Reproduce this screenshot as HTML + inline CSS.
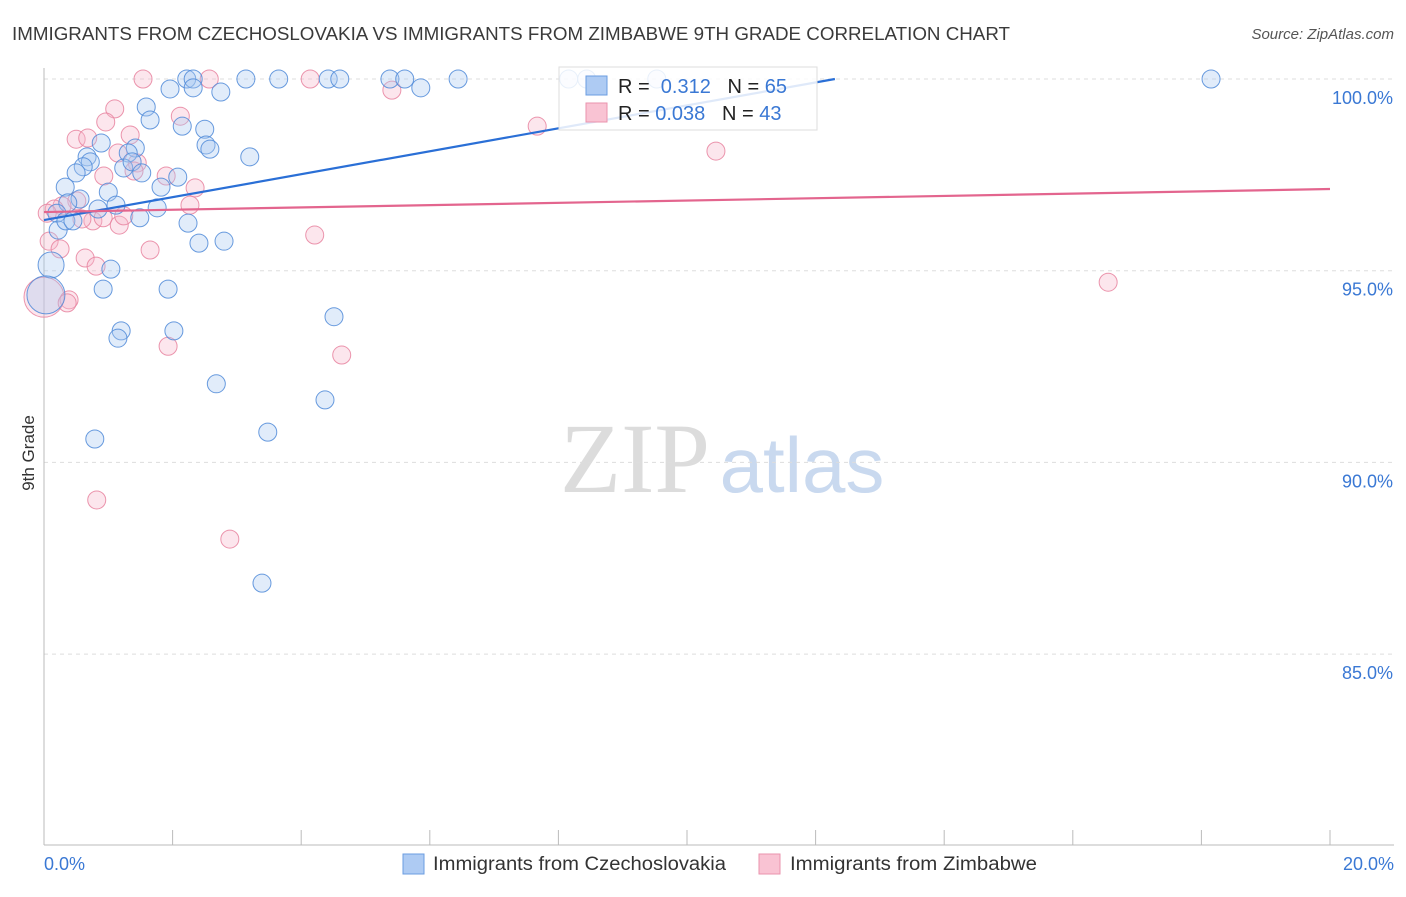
<!DOCTYPE html>
<html><head><meta charset="utf-8"><style>
body{margin:0;background:#fff;font-family:"Liberation Sans",sans-serif}
svg text{font-family:"Liberation Sans",sans-serif}
</style></head><body>
<svg id="chart" width="1406" height="892">
<text x="12" y="40" font-size="18" fill="#3a3a3a" textLength="998" lengthAdjust="spacingAndGlyphs">IMMIGRANTS FROM CZECHOSLOVAKIA VS IMMIGRANTS FROM ZIMBABWE 9TH GRADE CORRELATION CHART</text>
<text x="1394" y="39" font-size="15" fill="#555" text-anchor="end" font-style="italic">Source: ZipAtlas.com</text>
<text x="635" y="492" font-size="100" fill="#dcdcdc" text-anchor="middle" style="font-family:'Liberation Serif',serif">ZIP</text>
<text x="802" y="492" font-size="78" fill="#c9d9ef" text-anchor="middle">atlas</text>
<g id="grid"></g><g id="axes"></g><g id="pts"></g><g id="lines"></g>
<text x="36" y="455" font-size="17" fill="#333" text-anchor="middle" transform="rotate(-90 34 455)">9th Grade</text>
<text x="44" y="870" font-size="18" fill="#3a78d4">0.0%</text>
<text x="1394" y="870" font-size="18" fill="#3a78d4" text-anchor="end">20.0%</text>
<g>
<rect x="559" y="67" width="258" height="63" fill="#fff" fill-opacity="0.85" stroke="#ddd"/>
<rect x="586" y="76" width="21" height="19" fill="#aecbf3" stroke="#6b9de0"/>
<rect x="586" y="103" width="21" height="19" fill="#f9c3d3" stroke="#ea93ae"/>
<text x="618" y="93" font-size="20" fill="#222">R = <tspan fill="#3a78d4">&#160;0.312</tspan>&#160;&#160;&#160;N = <tspan fill="#3a78d4">65</tspan></text>
<text x="618" y="120" font-size="20" fill="#222">R = <tspan fill="#3a78d4">0.038</tspan>&#160;&#160;&#160;N = <tspan fill="#3a78d4">43</tspan></text>
</g>
<g>
<rect x="403" y="854" width="21" height="20" fill="#aecbf3" stroke="#6b9de0"/>
<text x="433" y="870" font-size="19" fill="#333" textLength="293" lengthAdjust="spacingAndGlyphs">Immigrants from Czechoslovakia</text>
<rect x="759" y="854" width="21" height="20" fill="#f9c3d3" stroke="#ea93ae"/>
<text x="790" y="870" font-size="19" fill="#333" textLength="247" lengthAdjust="spacingAndGlyphs">Immigrants from Zimbabwe</text>
</g>
</svg>
<script>
const yTicks=[100,95,90,85];
const yTickLabels=["100.0%","95.0%","90.0%","85.0%"];
const blueX=[2.22,2.32,3.14,3.65,4.42,4.60,5.38,5.61,6.44,8.16,8.44,9.53,18.15,1.96,2.32,2.75,5.86,1.59,1.65,2.15,2.50,2.52,2.58,3.20,0.89,0.67,0.72,1.42,1.31,0.61,0.50,0.33,1.00,1.24,1.37,1.52,2.08,1.82,0.56,0.37,0.84,1.12,1.76,1.49,2.24,0.20,0.22,0.34,0.45,2.41,2.80,0.11,1.04,0.92,1.93,0.03,1.20,1.15,2.02,4.51,2.68,4.37,0.79,3.48,3.39];
const blueY=[100,100,100,100,100,100,100,100,100,100,100,100,100,99.74,99.77,99.66,99.77,99.27,98.93,98.77,98.69,98.28,98.17,97.97,98.33,97.97,97.84,98.20,98.07,97.71,97.55,97.18,97.05,97.68,97.84,97.55,97.44,97.18,96.87,96.77,96.61,96.71,96.64,96.38,96.24,96.50,96.06,96.30,96.30,95.72,95.77,95.15,95.04,94.52,94.52,94.37,93.43,93.24,93.43,93.80,92.05,91.63,90.61,90.79,86.85];
const blueR=[9,9,9,9,9,9,9,9,9,9,9,9,9,9,9,9,9,9,9,9,9,9,9,9,9,9,9,9,9,9,9,9,9,9,9,9,9,9,9,9,9,9,9,9,9,9,9,9,9,9,9,13,9,9,9,19,9,9,9,9,9,9,9,9,9];
const pinkX=[1.54,2.57,4.14,5.41,7.67,10.45,1.10,0.96,0.50,0.68,1.34,2.12,1.15,1.45,1.40,0.93,1.90,2.35,0.51,0.28,0.16,0.05,0.76,0.92,1.17,1.24,2.27,0.59,0.08,0.25,1.65,4.21,0.64,0.81,0.00,0.39,0.36,16.55,4.63,1.93,0.82,2.89];
const pinkY=[100,100,100,99.71,98.77,98.12,99.22,98.88,98.43,98.46,98.54,99.03,98.07,97.81,97.60,97.47,97.47,97.16,96.82,96.69,96.61,96.50,96.30,96.38,96.19,96.43,96.71,96.35,95.77,95.57,95.54,95.93,95.33,95.12,94.31,94.24,94.16,94.70,92.80,93.03,89.02,88.00];
const pinkR=[9,9,9,9,9,9,9,9,9,9,9,9,9,9,9,9,9,9,9,9,9,9,9,9,9,9,9,9,9,9,9,9,9,9,20,9,9,9,9,9,9,9];
const blueTrend=[[0,96.32],[12.30,100]];
const pinkTrend=[[0,96.53],[20,97.13]];
const X0=44,X1=1330,Y100=79,PX5=191.7;
const sx=v=>X0+(v/20)*(X1-X0);
const sy=v=>Y100+(100-v)/5*PX5;
const NS="http://www.w3.org/2000/svg";
function mk(t,a,p){const e=document.createElementNS(NS,t);for(const k in a)e.setAttribute(k,a[k]);p.appendChild(e);return e;}
const grid=document.getElementById('grid'),axes=document.getElementById('axes'),pts=document.getElementById('pts'),lines=document.getElementById('lines');
yTicks.forEach((t,i)=>{
 const l=mk('line',{x1:X0,x2:1394,y1:sy(t),y2:sy(t),stroke:'#ddd','stroke-dasharray':'4,4'},grid);
 
 
 const tx=mk('text',{x:1393,y:sy(t)+25,'font-size':18,fill:'#3a78d4','text-anchor':'end'},grid);
 tx.textContent=yTickLabels[i];
 
 
});
mk('line',{x1:X0,x2:X0,y1:68,y2:845,stroke:'#bbb'},axes);
mk('line',{x1:X0,x2:1394,y1:845,y2:845,stroke:'#bbb'},axes);
for(let k=0;k<=10;k++){const x=sx(k*2);const t=mk('line',{x1:x,x2:x,y1:830,y2:845,stroke:'#bbb'},axes);
 
 }
function drawPts(X,Y,R,fill,stroke,name){X.forEach((x,i)=>{
 const c=mk('circle',{cx:sx(x),cy:sy(Y[i]),r:R[i],fill:fill,'fill-opacity':0.35,stroke:stroke,'stroke-width':1,'stroke-opacity':0.85},pts);
 
 
});}
drawPts(pinkX,pinkY,pinkR,'#f7b8cb','#e8839f','point-zimbabwe');
drawPts(blueX,blueY,blueR,'#a9c8f0','#4f8ad8','point-czechoslovakia');
const bl=mk('line',{x1:sx(blueTrend[0][0]),y1:sy(blueTrend[0][1]),x2:sx(blueTrend[1][0]),y2:sy(blueTrend[1][1]),stroke:'#2a6fd6','stroke-width':2.2},lines);


const pl=mk('line',{x1:sx(pinkTrend[0][0]),y1:sy(pinkTrend[0][1]),x2:sx(pinkTrend[1][0]),y2:sy(pinkTrend[1][1]),stroke:'#e3658e','stroke-width':2.2},lines);


</script>
</body></html>
